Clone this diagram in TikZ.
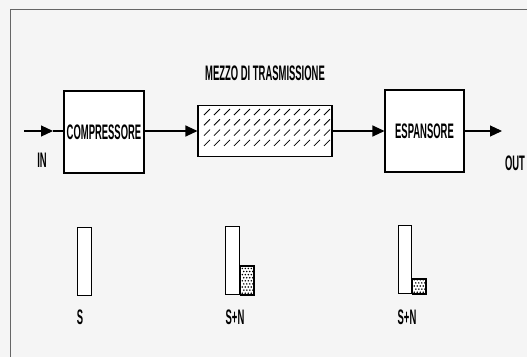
\documentclass[tikz,border=0pt]{standalone}
\usepackage{fontspec}
\newfontfamily\plotfont[FakeStretch=0.45]{Liberation Sans}
\usetikzlibrary{arrows.meta}
\tikzset{
  lbl/.style={font=\plotfont\bfseries\fontsize{21}{21}\selectfont, inner sep=0pt},
  blk/.style={draw, line width=1.1pt, inner sep=0pt},
  conn/.style={line width=1.1pt},
  arr/.style={conn, -{Triangle[length=12pt,width=11pt]}},
  frameline/.style={line width=0.8pt, draw=black!60},
  bar/.style={draw, line width=1.1pt, fill=white},
}
\begin{document}
\begin{tikzpicture}[x=1pt,y=-1pt]
\useasboundingbox[fill=black!4] (0,0) rectangle (527,357);
% frame
\coordinate (fTR) at (527,9);
\coordinate (fTL) at (10,9);
\coordinate (fBL) at (10,357);
\draw[frameline] (fTR) -- (fTL) -- (fBL);
% blocks
\node[blk, minimum width=80pt, minimum height=82pt, fill=white] (comp) at (104,132) {};
\node[lbl] at (comp.center) {COMPRESSORE};
\node[blk, minimum width=134pt, minimum height=51pt, fill=white] (chan) at (265,131) {};
\node[blk, minimum width=79pt, minimum height=82pt, fill=white] (esp) at (424.5,131) {};
\node[lbl] at (esp.center) {ESPANSORE};
\node[lbl] (mezzo) at (265,73) {MEZZO DI TRASMISSIONE};
% hatch
\begin{scope}
\clip (chan.south west) rectangle (chan.north east);
\foreach \i in {0,...,12}{
  \foreach \j in {0,...,3}{
    \draw[line width=0.8pt] (204+10*\i, 115+10.3*\j) -- (210+10*\i, 109+10.3*\j);
  }
}
\end{scope}
% connectors
\coordinate (inS) at (24,131);
\coordinate (inM) at (53,131);
\coordinate (outE) at (502,131);
\draw[arr] (inS) -- (inM);
\draw[conn] (inM) -- (comp.west |- inM);
\draw[arr] (comp.east |- chan.west) -- (chan.west);
\draw[arr] (chan.east) -- (esp.west |- chan.east);
\draw[arr] (esp.east |- outE) -- (outE);
\node[lbl] (in) at (42,160) {IN};
\node[lbl] (out) at (515,163) {OUT};
% bars
\node[bar, minimum width=14pt, minimum height=68pt, anchor=south west] (b1) at (77,296) {};
\node[lbl] (s1) at (80,317) {S};
\node[bar, minimum width=14pt, minimum height=68pt, anchor=south west] (b2) at (225,295) {};
\node[bar, minimum width=13pt, minimum height=28pt, anchor=south west] (n2) at (b2.south east) {};
\node[lbl] (s2) at (235,317) {S+N};
\node[bar, minimum width=13pt, minimum height=68pt, anchor=south west] (b3) at (398,294) {};
\node[bar, minimum width=13pt, minimum height=14pt, anchor=south west] (n3) at (b3.south east) {};
\node[lbl] (s3) at (407,317) {S+N};
% dots
\begin{scope}
\clip (n2.south west) rectangle (n2.north east);
\foreach \i in {0,...,3}{\foreach \j in {0,...,8}{
  \pgfmathsetmacro{\dx}{2.2+3*\i+1.5*mod(\j,2)}
  \pgfmathsetmacro{\dy}{-1.8-3.1*\j}
  \fill (n2.south west) ++(\dx,\dy) circle (0.85pt);
}}
\end{scope}
\begin{scope}
\clip (n3.south west) rectangle (n3.north east);
\foreach \i in {0,...,3}{\foreach \j in {0,...,4}{
  \pgfmathsetmacro{\dx}{2.2+3*\i+1.5*mod(\j,2)}
  \pgfmathsetmacro{\dy}{-1.8-3.1*\j}
  \fill (n3.south west) ++(\dx,\dy) circle (0.85pt);
}}
\end{scope}
\draw[line width=1.1pt] (n2.south west) rectangle (n2.north east);
\draw[line width=1.1pt] (n3.south west) rectangle (n3.north east);
\end{tikzpicture}
\end{document}
